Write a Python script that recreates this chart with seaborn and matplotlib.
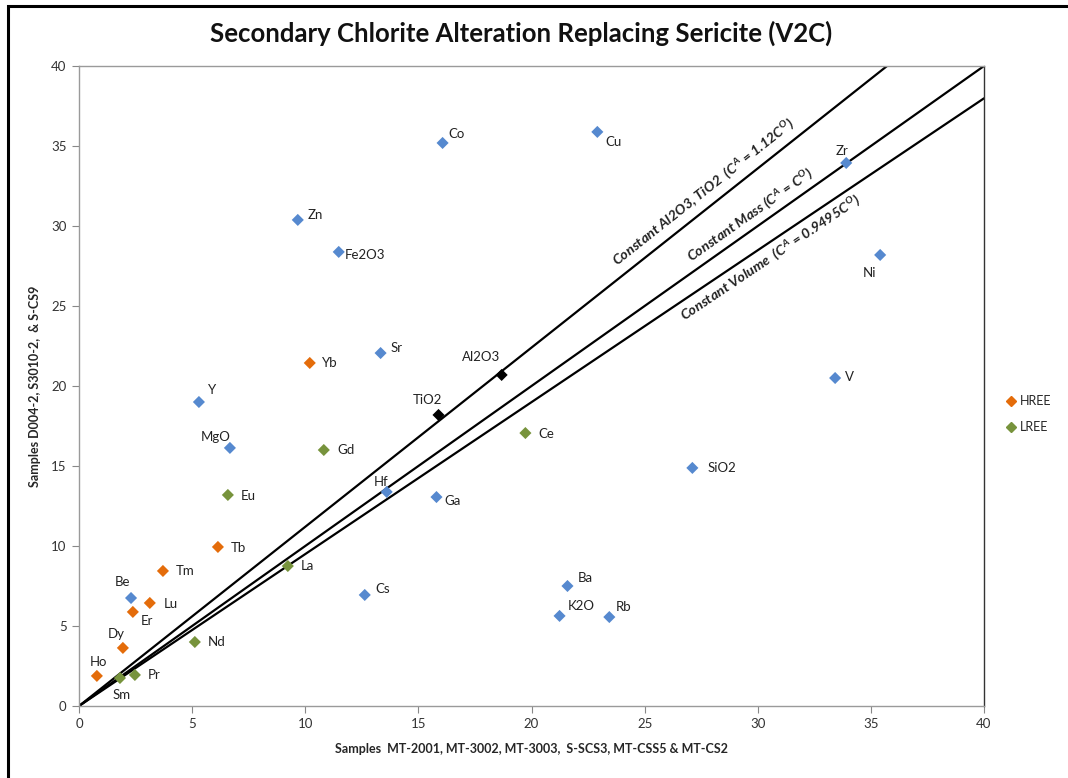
import numpy as np
import pandas as pd
import matplotlib
matplotlib.use("Agg")
import matplotlib.pyplot as plt
import seaborn as sns
from matplotlib.lines import Line2D
from matplotlib.patches import Rectangle

# ---------------- data ----------------
elements = ["Co", "Cu", "Zn", "Fe2O3", "Zr", "Ni", "Sr", "Yb", "Al2O3", "Y", "V", "TiO2",
            "MgO", "Gd", "Ce", "SiO2", "Hf", "Ga", "Eu", "Tb", "Tm", "La", "Be", "Lu",
            "Er", "Cs", "Ba", "K2O", "Rb", "Dy", "Nd", "Ho", "Sm", "Pr"]
x_orig = [16.07, 22.91, 9.67, 11.48, 33.91, 35.41, 13.33, 10.20, 18.68, 5.30, 33.42, 15.89,
          6.67, 10.82, 19.73, 27.11, 13.60, 15.80, 6.58, 6.14, 3.71, 9.23, 2.30, 3.13,
          2.38, 12.63, 21.59, 21.24, 23.44, 1.94, 5.12, 0.79, 1.81, 2.47]
y_alt = [35.19, 35.88, 30.38, 28.38, 33.94, 28.19, 22.06, 21.44, 20.69, 19.00, 20.50, 18.19,
         16.13, 16.00, 17.06, 14.88, 13.38, 13.06, 13.19, 9.94, 8.44, 8.75, 6.75, 6.44,
         5.88, 6.94, 7.50, 5.63, 5.56, 3.63, 4.00, 1.88, 1.75, 1.94]
groups = ["Other", "Other", "Other", "Other", "Other", "Other", "Other", "HREE", "Immobile", "Other", "Other", "Immobile",
          "Other", "LREE", "LREE", "Other", "Other", "Other", "LREE", "HREE", "HREE", "LREE", "Other", "HREE",
          "HREE", "Other", "Other", "Other", "Other", "HREE", "LREE", "HREE", "LREE", "LREE"]

isocon_names = ["Constant Al2O3, TiO2", "Constant Mass", "Constant Volume"]
isocon_slopes = [1.12, 1.0, 0.9495]

x_ticks = [0, 5, 10, 15, 20, 25, 30, 35, 40]
y_ticks = [0, 5, 10, 15, 20, 25, 30, 35, 40]

title = "Secondary Chlorite Alteration Replacing Sericite (V2C)"
xlabel = "Samples  MT-2001, MT-3002, MT-3003,  S-SCS3, MT-CSS5 & MT-CS2"
ylabel = "Samples D004-2, S3010-2,  & S-CS9"

# ---------------- styling ----------------
palette = {"Other": "#5689CF", "HREE": "#E46C0A", "LREE": "#77933C", "Immobile": "#000000"}

# label offsets in pixels (dx, dy, ha)
offsets = {
    "Co": (6, 9, "left"), "Cu": (8, -10, "left"), "Zn": (10, 5, "left"), "Fe2O3": (6, -3, "left"),
    "Zr": (-4, 12, "center"), "Ni": (-11, -18, "center"), "Sr": (10, 5, "left"), "Yb": (12, 0, "left"),
    "Al2O3": (-21, 18, "center"), "Y": (9, 12, "left"), "V": (10, 1, "left"), "TiO2": (-11, 15, "center"),
    "MgO": (-14, 11, "center"), "Gd": (14, 0, "left"), "Ce": (13, -1, "left"), "SiO2": (15, 0, "left"),
    "Hf": (-6, 10, "center"), "Ga": (8, -4, "left"), "Eu": (13, -1, "left"), "Tb": (13, -1, "left"),
    "Tm": (13, 0, "left"), "La": (13, 0, "left"), "Be": (-9, 16, "center"), "Lu": (14, -1, "left"),
    "Er": (8, -9, "left"), "Cs": (11, 6, "left"), "Ba": (10, 8, "left"), "K2O": (8, 10, "left"),
    "Rb": (6, 10, "left"), "Dy": (-7, 14, "center"), "Nd": (13, 0, "left"), "Ho": (2, 14, "center"),
    "Sm": (2, -17, "center"), "Pr": (13, 0, "left"),
}

sns.set_style("white")
plt.rcParams["font.family"] = ["Lato", "DejaVu Sans"]
plt.rcParams["mathtext.fontset"] = "custom"
plt.rcParams["mathtext.rm"] = "Lato:bold:italic"
plt.rcParams["mathtext.it"] = "Lato:bold:italic"
plt.rcParams["mathtext.bf"] = "Lato:bold:italic"

df = pd.DataFrame({"element": elements, "x": x_orig, "y": y_alt, "group": groups})

fig = plt.figure(figsize=(10.68, 7.78), dpi=100)
ax = fig.add_axes([79 / 1068, 1 - 706 / 778, 905 / 1068, 640 / 778])

# isocon lines
for s in isocon_slopes:
    xe = min(40.0, 40.0 / s)
    ax.plot([0, xe], [0, s * xe], color="black", lw=1.6, zorder=2)

sns.scatterplot(data=df, x="x", y="y", hue="group", palette=palette, marker="D",
                s=38, edgecolor="none", legend=False, ax=ax, zorder=3)

for _, r in df.iterrows():
    dx, dy, ha = offsets[r["element"]]
    ax.annotate(r["element"], (r["x"], r["y"]), xytext=(dx * 0.72, dy * 0.72),
                textcoords="offset points", ha=ha, va="center", fontsize=9.5, color="#222222")

# isocon labels
line_labels = [
    (r"Constant Al2O3, TiO2  ($C^A$ = 1.12$C^O$)", 27.6, 32.1),
    (r"Constant Mass ($C^A$ = $C^O$)", 29.7, 30.65),
    (r"Constant Volume  ($C^A$ = 0.9495$C^O$)", 30.6, 28.0),
]
for (txt, tx, ty), s in zip(line_labels, isocon_slopes):
    ax.text(tx, ty, txt, rotation=np.degrees(np.arctan(s)), transform_rotates_text=True,
            rotation_mode="anchor", ha="center", va="center", fontsize=10.3,
            fontweight="bold", fontstyle="italic", color="#222222")

ax.set_xlim(0, 40)
ax.set_ylim(0, 40)
ax.set_xticks(x_ticks)
ax.set_yticks(y_ticks)
ax.tick_params(axis="both", direction="out", length=5, width=0.8, color="#888888",
               labelsize=9.5, labelcolor="#333333", bottom=True, left=True, pad=4)
for side in ["left", "bottom", "top"]:
    ax.spines[side].set_color("#9a9a9a")
    ax.spines[side].set_linewidth(1.0)
ax.spines["right"].set_color("#333333")
ax.spines["right"].set_linewidth(1.0)

ax.set_xlabel(xlabel, fontsize=9, fontweight="bold", labelpad=9)
ax.set_ylabel(ylabel, fontsize=9, fontweight="bold", labelpad=7)

fig.text(521 / 1068, 1 - 33 / 778, title, ha="center", va="center",
         fontsize=18.5, fontweight="bold", color="#111111")

handles = [Line2D([], [], marker="D", linestyle="none", color=palette["HREE"], markersize=5, label="HREE"),
           Line2D([], [], marker="D", linestyle="none", color=palette["LREE"], markersize=5, label="LREE")]
fig.legend(handles=handles, loc="center left", bbox_to_anchor=(995 / 1068, 1 - 414 / 778),
           frameon=False, fontsize=9, handlelength=0.8, handletextpad=0.3, labelspacing=1.1)

fig.patches.append(Rectangle((8 / 1068, -0.05), 1.1, 1 - 6 / 778 + 0.05, transform=fig.transFigure,
                             fill=False, edgecolor="black", lw=2.2))

fig.savefig("out.png", dpi=100)
